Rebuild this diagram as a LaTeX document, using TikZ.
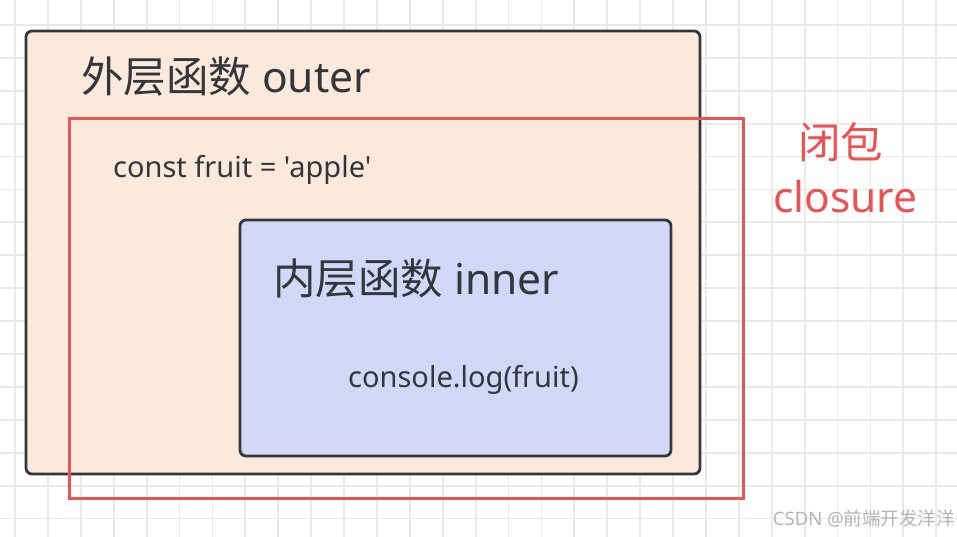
\documentclass[tikz,border=0pt]{standalone}
\usepackage{fontspec}
\setmainfont{Noto Sans}[Ligatures=TeXOff]
\newfontfamily\cjk{Noto Sans CJK SC}
\definecolor{gridgray}{HTML}{E9E9E9}
\definecolor{outerfill}{HTML}{FBE9DB}
\definecolor{innerfill}{HTML}{D3D6F7}
\definecolor{boxline}{HTML}{33373B}
\definecolor{closurered}{HTML}{E85454}
\definecolor{markgray}{HTML}{B4B4B4}
\tikzset{
    funcbox/.style={draw=boxline, line width=2.8pt, rounded corners=6pt},
    codetext/.style={anchor=base west, inner sep=0pt, text=boxline, font=\fontsize{29}{34}\selectfont},
    titletext/.style={anchor=base west, inner sep=0pt, text=boxline, font=\fontsize{42.5}{50}\selectfont},
    closuretext/.style={anchor=base west, inner sep=0pt, text=closurered, font=\fontsize{42.5}{50}\selectfont}
}
\begin{document}
\begin{tikzpicture}[x=1pt, y=-1pt]
        % Canvas
        \useasboundingbox (0,0) rectangle (957,537);
        \fill[white] (0,0) rectangle (957,537);

        % Background grid
        \foreach \x in {0,...,28}
            \draw[gridgray, line width=1.8pt] (15+32.9*\x,0) -- (15+32.9*\x,537);
        \foreach \y in {0,...,15}
            \draw[gridgray, line width=1.8pt] (0,25+32.9*\y) -- (957,25+32.9*\y);

        % Outer function
        \draw[funcbox, fill=outerfill] (26,31) rectangle (700,474);
        \node[titletext] (outertitle) at (81,93) {{\cjk 外层函数} outer};
        \node[codetext] (fruitdecl) at (113,178) {const fruit = 'apple'};

        % Inner function
        \draw[funcbox, fill=innerfill] (240,220) rectangle (671,456);
        \node[titletext] (innertitle) at (273,294) {{\cjk 内层函数} inner};
        \node[codetext] (logcall) at (348,387) {console.log(fruit)};

        % Closure region
        \draw[closurered, line width=3pt] (69,119) rectangle (743,498);
        \node[closuretext] (closurecn) at (798,159) {\cjk 闭包};
        \node[closuretext] (closureen) at (773,212) {closure};

        % Watermark
        \node[text=markgray, font=\fontsize{18.5}{22}\selectfont, anchor=base east, inner sep=0pt] (mark) at (955,525) {CSDN @{\cjk 前端开发洋洋}};
\end{tikzpicture}
\end{document}
